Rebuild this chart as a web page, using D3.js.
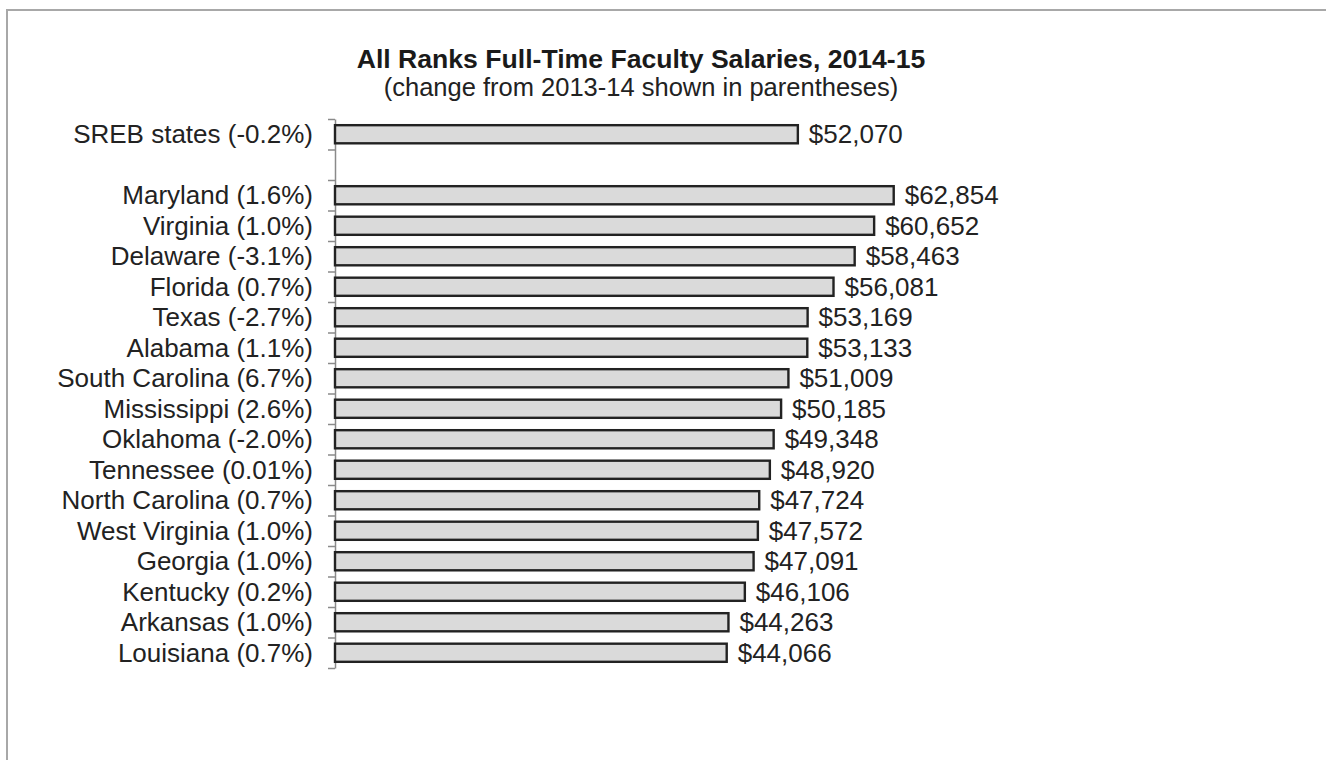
<!DOCTYPE html>
<html>
<head>
<meta charset="utf-8">
<script src="https://cdn.jsdelivr.net/npm/d3@7"></script>
<style>
  html, body { margin: 0; padding: 0; background: #fff; }
  svg { display: block; }
  text { font-family: "Liberation Sans", Arial, Helvetica, sans-serif; fill: #222; }
</style>
</head>
<body>
<svg id="chart" width="1326" height="760"></svg>
<script>
// ---- data ----
const title = "All Ranks Full-Time Faculty Salaries, 2014-15";
const subtitle = "(change from 2013-14 shown in parentheses)";
const states = ["SREB states", "", "Maryland", "Virginia", "Delaware", "Florida", "Texas", "Alabama",
  "South Carolina", "Mississippi", "Oklahoma", "Tennessee", "North Carolina", "West Virginia",
  "Georgia", "Kentucky", "Arkansas", "Louisiana"];
const changes = ["-0.2%", "", "1.6%", "1.0%", "-3.1%", "0.7%", "-2.7%", "1.1%",
  "6.7%", "2.6%", "-2.0%", "0.01%", "0.7%", "1.0%", "1.0%", "0.2%", "1.0%", "0.7%"];
const salaries = [52070, null, 62854, 60652, 58463, 56081, 53169, 53133,
  51009, 50185, 49348, 48920, 47724, 47572, 47091, 46106, 44263, 44066];

const rows = states.map((s, i) => ({
  id: i,
  label: s ? `${s} (${changes[i]})` : "",
  value: salaries[i]
}));

// ---- layout ----
const svg = d3.select("#chart");
const axisX = 335, plotTop = 119, plotBottom = 668;

// frame
svg.append("rect")
  .attr("x", 7).attr("y", 10).attr("width", 1340).attr("height", 780)
  .attr("fill", "none").attr("stroke", "#a8a8a8").attr("stroke-width", 2);

const x = d3.scaleLinear().domain([0, 70000]).range([axisX, axisX + 0.008889 * 70000]);
const y = d3.scaleBand().domain(rows.map(d => d.id)).range([plotTop, plotBottom])
  .paddingInner(0.34).paddingOuter(0.17);
const yEdge = d3.scaleLinear().domain([0, rows.length]).range([plotTop, plotBottom]);

// title
svg.append("text").attr("x", 641).attr("y", 68).attr("text-anchor", "middle")
  .style("font-size", "26.6px").style("font-weight", "bold").style("fill", "#1a1a1a").text(title);
svg.append("text").attr("x", 641).attr("y", 96).attr("text-anchor", "middle")
  .style("font-size", "25.5px").text(subtitle);

// axis with ticks at slot boundaries
const axis = d3.axisLeft(yEdge).tickValues(d3.range(rows.length + 1))
  .tickFormat("").tickSize(7).tickSizeOuter(0);
const ag = svg.append("g").attr("transform", `translate(${axisX},0)`).call(axis);
ag.select(".domain").attr("stroke", "#8a8a8a").attr("stroke-width", 1.5);
ag.selectAll(".tick line").attr("stroke", "#8a8a8a").attr("stroke-width", 1.5);

// category labels
svg.append("g").selectAll("text").data(rows.filter(d => d.label)).join("text")
  .attr("x", axisX - 22)
  .attr("y", d => y(d.id) + y.bandwidth() / 2)
  .attr("dy", "0.35em")
  .attr("text-anchor", "end")
  .style("font-size", "26px")
  .text(d => d.label);

// bars
const data = rows.filter(d => d.value != null);
svg.append("g").selectAll("rect").data(data).join("rect")
  .attr("x", x(0))
  .attr("y", d => y(d.id) + 1)
  .attr("width", d => x(d.value) - x(0))
  .attr("height", y.bandwidth() - 2)
  .attr("fill", "#dadada")
  .attr("stroke", "#222")
  .attr("stroke-width", 2.4);

// value labels
const fmt = d3.format("$,");
svg.append("g").selectAll("text").data(data).join("text")
  .attr("x", d => x(d.value) + 11)
  .attr("y", d => y(d.id) + y.bandwidth() / 2)
  .attr("dy", "0.35em")
  .style("font-size", "26px")
  .text(d => fmt(d.value));
</script>
</body>
</html>
